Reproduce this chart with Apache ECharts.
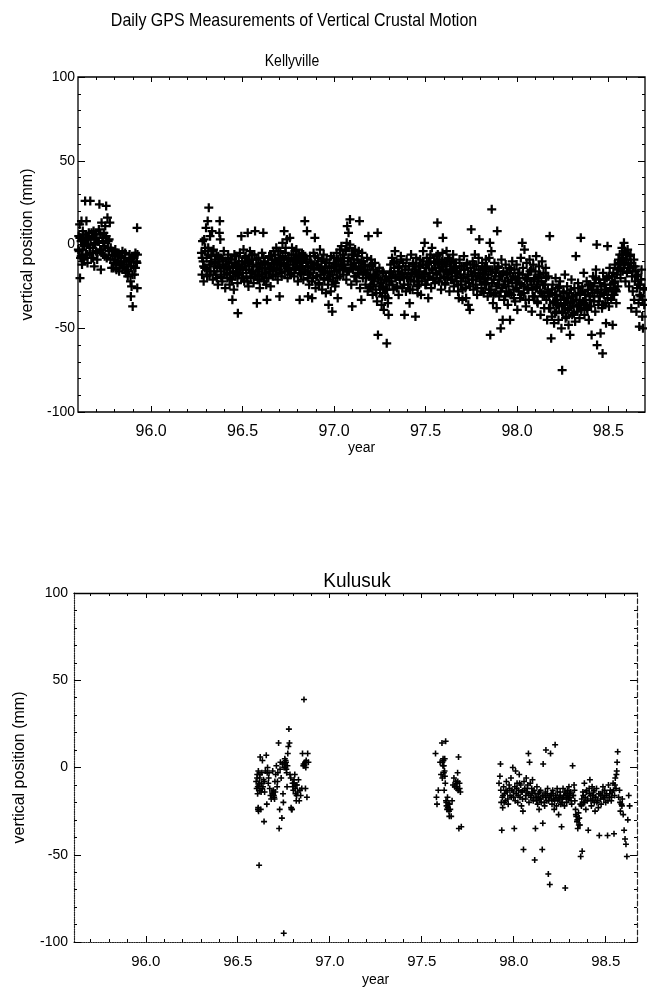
<!DOCTYPE html>
<html>
<head>
<meta charset="utf-8">
<script src="https://cdn.jsdelivr.net/npm/echarts@6/dist/echarts.min.js"></script>
<style>
html,body{margin:0;padding:0;background:#fff;}
#chart{width:647px;height:988px;}
</style>
</head>
<body>
<div id="chart"></div>
<script>
// ---- Text ----
const mainTitle = 'Daily GPS Measurements of Vertical Crustal Motion';
const stationNames = ['Kellyville', 'Kulusuk'];
const xName = 'year';
const yName = 'vertical position (mm)';

// ---- Tick positions ----
const xMajorTicks = [96.0, 96.5, 97.0, 97.5, 98.0, 98.5];
const xMinorTicks = [95.7, 95.8, 95.9, 96.1, 96.2, 96.3, 96.4, 96.6, 96.7, 96.8, 96.9, 97.1, 97.2, 97.3, 97.4, 97.6, 97.7, 97.8, 97.9, 98.1, 98.2, 98.3, 98.4, 98.6];
const yRange = [-100, 100];
const yStep = 50;
const kellyvilleYearRange = [95.6, 98.7];
const kulusukYearRange = [95.61, 98.67];

// ---- Kellyville: [year, vertical position mm] ----
const kellyville1995 = [[95.604,5],[95.606,-4],[95.609,12],[95.611,-20],[95.614,-8],[95.617,2],[95.619,14],[95.622,-12],[95.625,-3],[95.629,6],[95.632,-9],[95.636,1],[95.639,26],[95.642,-6],[95.646,14],[95.649,4],[95.652,-11],[95.656,0],[95.659,7],[95.663,-5],[95.667,26],[95.669,3],[95.673,-8],[95.677,5],[95.681,-2],[95.685,8],[95.689,-13],[95.693,1],[95.697,-4],[95.701,6],[95.705,-9],[95.709,2],[95.714,9],[95.717,24],[95.721,-3],[95.725,-15],[95.729,13],[95.733,4],[95.737,-6],[95.741,7],[95.745,-1],[95.749,11],[95.754,23],[95.757,-8],[95.761,16],[95.765,2],[95.769,-4],[95.774,13],[95.779,-2],[95.784,-14],[95.789,-6],[95.794,-14],[95.799,-9],[95.804,-3],[95.809,-12],[95.814,-5],[95.819,-10],[95.825,-16],[95.831,-7],[95.837,-11],[95.843,-4],[95.849,-13],[95.855,-8],[95.861,-17],[95.867,-15],[95.872,-19],[95.877,-10],[95.882,-6],[95.887,-22],[95.889,-31],[95.893,-25],[95.897,-8],[95.899,-37],[95.904,-13],[95.909,-18],[95.914,-5],[95.919,-10],[95.923,10],[95.924,-26],[95.925,-6]];

const kellyville1995Core = [[95.602,-3],[95.610,4],[95.618,-7],[95.626,8],[95.634,-1],[95.642,3],[95.650,-6],[95.658,5],[95.666,-2],[95.674,7],[95.682,-8],[95.690,0],[95.698,4],[95.706,-5],[95.714,2],[95.722,6],[95.730,-3],[95.738,1],[95.746,-7],[95.754,5],[95.762,-2],[95.770,3],[95.778,-9],[95.786,-4],[95.794,-11],[95.802,-7],[95.810,-15],[95.818,-6],[95.826,-12],[95.834,-8],[95.842,-14],[95.850,-10],[95.858,-5],[95.866,-12],[95.874,-16],[95.882,-9],[95.890,-13],[95.898,-18],[95.906,-7],[95.914,-14],[95.922,-11]];

const kellyville1996 = [[96.275,-5],[96.278,-18],[96.281,2],[96.284,-10],[96.287,-22],[96.290,3],[96.293,-14],[96.296,-4],[96.300,10],[96.303,-8],[96.306,-19],[96.309,14],[96.312,-2],[96.315,22],[96.318,-12],[96.322,5],[96.325,-16],[96.329,-7],[96.333,8],[96.337,-21],[96.341,-3],[96.345,-13],[96.349,-9],[96.353,-18],[96.357,-6],[96.361,-14],[96.365,-24],[96.369,-10],[96.373,7],[96.375,14],[96.378,3],
[96.381,-16],[96.385,-8],[96.389,-22],[96.393,-12],[96.397,-4],[96.401,-18],[96.405,-26],[96.409,-10],[96.413,-15],[96.417,-20],[96.421,-6],[96.425,-13],[96.429,-24],[96.433,-17],[96.437,-9],[96.441,-21],[96.444,-33],[96.448,-14],[96.452,-27],[96.456,-11],[96.460,-19],[96.464,-7],[96.468,-16],[96.472,-23],[96.474,-41],[96.477,-12],[96.481,-18],[96.485,-5],[96.489,-14],[96.493,-20],
[96.493,5],[96.497,-10],[96.501,-17],[96.505,-3],[96.509,-22],[96.513,-13],[96.517,-7],[96.521,-19],[96.525,-11],[96.528,7],[96.532,-25],[96.536,-15],[96.540,-4],[96.544,-20],[96.548,-9],[96.552,-16],[96.556,-12],[96.560,-23],[96.564,-6],[96.568,8],[96.572,-18],[96.576,-13],[96.578,-35],[96.582,-21],[96.586,-8],[96.590,-15],[96.594,-26],[96.598,-11],[96.602,-19],[96.606,-5],[96.610,-14],[96.613,7],[96.617,-22],[96.621,-10],[96.625,-17],[96.629,-24],[96.633,-33],[96.637,-12],[96.641,-20],[96.645,-7],[96.649,-16],[96.653,-25],[96.657,-13],[96.661,-9],[96.665,-19],[96.669,-4],
[96.672,-14],[96.676,-6],[96.680,-18],[96.684,-2],[96.688,-11],[96.692,-21],[96.696,-8],[96.700,-15],[96.702,-31],[96.706,-4],[96.710,-12],[96.714,-19],[96.718,1],[96.722,-9],[96.727,8],[96.730,-16],[96.734,-5],[96.738,-13],[96.742,3],[96.746,-20],[96.750,-8],[96.754,-14],[96.758,4],[96.762,-10],[96.766,-17],[96.770,-2],[96.774,-12],[96.778,-6],[96.782,-19],[96.786,-9],[96.790,-15],[96.794,-3],[96.798,-11],[96.802,-22],[96.806,-7],[96.810,-14],[96.812,-33],[96.816,-10],[96.820,-18],[96.824,-5],[96.828,-13],[96.832,-21],[96.836,-8],[96.840,14],[96.844,-16],[96.848,-11],[96.852,8],[96.856,-20],[96.858,-31],
[96.860,-13],[96.864,-24],[96.868,-7],[96.872,-17],[96.876,-11],[96.880,-32],[96.884,-20],[96.888,-5],[96.892,-15],[96.895,4],[96.899,-26],[96.903,-12],[96.907,-19],[96.911,-8],[96.915,-23],[96.919,-14],[96.923,-3],[96.927,-18],[96.931,-10],[96.935,-27],[96.939,-16],[96.943,-6],[96.947,-21],[96.951,-13],[96.955,-29],[96.959,-9],[96.963,-17],[96.967,-24],[96.970,-36],[96.974,-11],[96.978,-19],[96.982,-28],[96.986,-14],[96.990,-40],[96.994,-22],[96.998,-8],[97.002,-16],[97.006,-25],[97.010,-12],[97.014,-5],[97.018,-20],[97.020,-32],[97.024,-10],[97.028,-15],[97.032,-3],[97.036,-9],[97.040,-1],[97.044,-13],[97.048,-6]];

const kellyville1996Core = [[96.279,-8],[96.287,-13],[96.295,-2],[96.303,-15],[96.311,-6],[96.319,-18],[96.327,-10],[96.335,-4],[96.343,-16],[96.351,-11],[96.359,-20],[96.367,-7],[96.375,-13],[96.383,-19],[96.391,-9],[96.399,-14],[96.407,-12],[96.415,-17],[96.423,-8],[96.431,-20],[96.439,-11],[96.447,-16],[96.455,-6],[96.463,-13],[96.471,-18],[96.479,-10],[96.487,-15],
[96.495,-12],[96.503,-20],[96.511,-8],[96.519,-15],[96.527,-22],[96.535,-10],[96.543,-17],[96.551,-6],[96.559,-13],[96.567,-19],[96.575,-9],[96.583,-16],[96.591,-21],[96.599,-12],[96.607,-18],[96.615,-8],[96.623,-14],[96.631,-20],[96.639,-11],[96.647,-15],[96.655,-7],[96.663,-18],[96.671,-12],
[96.679,-9],[96.687,-15],[96.695,-4],[96.703,-12],[96.711,-17],[96.719,-7],[96.727,-11],[96.735,-2],[96.743,-14],[96.751,-9],[96.759,-18],[96.767,-6],[96.775,-10],[96.783,-15],[96.791,-4],[96.799,-13],[96.807,-8],[96.815,-17],[96.823,-11],[96.831,-6],[96.839,-15],[96.847,-9],[96.855,-13],
[96.863,-18],[96.871,-10],[96.879,-22],[96.887,-14],[96.895,-7],[96.903,-19],[96.911,-12],[96.919,-24],[96.927,-15],[96.935,-9],[96.943,-20],[96.951,-16],[96.959,-11],[96.967,-21],[96.975,-14],[96.983,-7],[96.991,-18],[96.999,-13],[97.007,-23],[97.015,-16],[97.023,-9],[97.031,-19],[97.039,-12],[97.047,-15]];

const kellyville1997 = [[97.051,-18],[97.055,-8],[97.059,-14],[97.063,-4],[97.067,-21],[97.069,1],[97.072,11],[97.075,-10],[97.079,7],[97.082,-16],[97.085,-2],[97.087,15],[97.090,-12],[97.094,-24],[97.097,-6],[97.099,-37],[97.103,-15],[97.107,-9],[97.111,-19],[97.115,-3],[97.119,-13],[97.123,-22],[97.127,-7],[97.131,-17],[97.135,-11],[97.139,14],[97.142,-26],[97.146,-14],[97.149,-33],[97.153,-5],[97.157,-20],[97.161,-10],[97.165,-16],
[97.168,-12],[97.172,-24],[97.176,-17],[97.180,-8],[97.184,-28],[97.188,5],[97.191,-19],[97.195,-13],[97.199,-25],[97.203,-9],[97.207,-21],[97.211,-30],[97.215,-15],[97.219,-22],[97.223,-11],[97.227,-27],[97.231,-18],[97.235,-34],[97.238,7],[97.240,-54],[97.244,-20],[97.248,-14],[97.252,-29],[97.256,-23],[97.260,-36],[97.264,-16],[97.268,-26],[97.272,-39],[97.276,-21],[97.280,-31],[97.284,-19],[97.288,-59],[97.290,-27],[97.294,-35],[97.298,-42],[97.302,-24],[97.306,-17],
[97.309,-12],[97.313,-22],[97.317,-8],[97.321,-18],[97.325,-27],[97.329,-14],[97.333,-4],[97.337,-20],[97.341,-10],[97.345,-25],[97.349,-16],[97.353,-30],[97.357,-13],[97.361,-21],[97.365,-7],[97.369,-18],[97.373,-26],[97.377,-11],[97.381,-20],[97.385,-42],[97.389,-15],[97.393,-28],[97.397,-9],[97.401,-19],[97.405,-24],[97.409,-13],[97.413,-35],[97.417,-21],[97.421,-6],[97.425,-17],[97.429,-27],[97.433,-11],[97.437,-22],[97.441,-15],[97.445,-43],[97.449,-8],[97.453,-19],[97.457,-29],[97.461,-13],[97.465,-24],
[97.467,-16],[97.471,-9],[97.475,-30],[97.479,-20],[97.483,-12],[97.487,-4],[97.491,-18],[97.495,1],[97.499,-24],[97.503,-14],[97.507,-8],[97.511,-21],[97.515,-32],[97.519,-11],[97.523,-17],[97.527,-6],[97.531,-26],[97.535,-2],[97.539,-15],[97.543,-20],[97.547,-10],[97.551,-23],[97.555,-14],[97.559,-7],[97.563,-18],[97.565,13],[97.569,-12],[97.573,-22],[97.577,-9],[97.581,-16],[97.585,-27],[97.589,-13],[97.593,-5],[97.595,4],[97.599,-19],[97.603,-11],[97.607,-24],[97.611,-15],[97.615,-4],[97.619,-20],[97.623,-8],[97.627,-17],[97.631,-28],[97.635,-13],[97.639,-21],[97.643,-10],[97.647,-16],[97.651,-6],[97.655,-25],[97.659,-14],[97.663,-19],
[97.666,-11],[97.670,-22],[97.674,-16],[97.678,-28],[97.682,-32],[97.686,-9],[97.690,-18],[97.694,-24],[97.698,-13],[97.702,-33],[97.706,-20],[97.710,-7],[97.714,-15],[97.718,-26],[97.722,-32],[97.726,-12],[97.730,-19],[97.734,-36],[97.738,-23],[97.742,-39],[97.746,-14],[97.750,9],[97.754,-21],[97.758,-10],[97.762,-27],[97.766,-17],[97.770,-6],[97.774,-24],[97.778,-13],[97.782,-30],[97.786,-19],[97.790,-8],[97.794,3],[97.798,-22],[97.802,-15],[97.806,-26],[97.810,-11],[97.814,-18],[97.818,-29],[97.822,-14],[97.826,-21],[97.830,-9]];

const kellyville1997Core = [[97.055,-12],[97.063,-3],[97.071,-16],[97.079,-8],[97.087,0],[97.095,-14],[97.103,-6],[97.111,-11],[97.119,-19],[97.127,-9],[97.135,-4],[97.143,-15],[97.151,-10],[97.159,-18],[97.167,-13],
[97.175,-20],[97.183,-15],[97.191,-26],[97.199,-18],[97.207,-12],[97.215,-24],[97.223,-19],[97.231,-29],[97.239,-16],[97.247,-25],[97.255,-21],[97.263,-31],[97.271,-17],[97.279,-27],[97.287,-22],[97.295,-32],[97.303,-20],
[97.311,-16],[97.319,-24],[97.327,-11],[97.335,-19],[97.343,-26],[97.351,-14],[97.359,-21],[97.367,-9],[97.375,-17],[97.383,-24],[97.391,-13],[97.399,-20],[97.407,-15],[97.415,-27],[97.423,-18],[97.431,-12],[97.439,-22],[97.447,-16],[97.455,-25],[97.463,-19],
[97.471,-13],[97.479,-22],[97.487,-10],[97.495,-17],[97.503,-24],[97.511,-12],[97.519,-19],[97.527,-8],[97.535,-15],[97.543,-21],[97.551,-11],[97.559,-17],[97.567,-6],[97.575,-14],[97.583,-20],[97.591,-10],[97.599,-16],[97.607,-23],[97.615,-12],[97.623,-18],[97.631,-9],[97.639,-15],[97.647,-21],[97.655,-11],[97.663,-16],
[97.671,-17],[97.679,-24],[97.687,-13],[97.695,-20],[97.703,-27],[97.711,-15],[97.719,-22],[97.727,-11],[97.735,-18],[97.743,-25],[97.751,-16],[97.759,-21],[97.767,-12],[97.775,-19],[97.783,-26],[97.791,-15],[97.799,-20],[97.807,-28],[97.815,-17],[97.823,-23],[97.831,-14]];

const kellyville1998 = [[97.832,-24],[97.836,-13],[97.840,-31],[97.844,-18],[97.848,-8],[97.852,1],[97.854,-54],[97.857,-27],[97.860,-4],[97.862,21],[97.865,-15],[97.869,-35],[97.873,-21],[97.877,-11],[97.881,-29],[97.885,-17],[97.889,-38],[97.892,8],[97.895,-24],[97.899,-13],[97.903,-31],[97.907,-19],[97.911,-50],[97.915,-9],[97.919,-26],[97.922,-45],[97.926,-16],[97.930,-33],[97.934,-22],[97.938,-12],[97.942,-28],[97.946,-18],[97.950,-36],[97.954,-25],[97.958,-14],[97.962,-45],[97.966,-21],[97.970,-30],[97.974,-10],[97.978,-19],[97.982,-27],[97.986,-15],[97.990,-34],[97.994,-23],[97.998,-12],[98.002,-39],[98.006,-20],[98.010,-28],
[98.013,-17],[98.017,-32],[98.021,-8],[98.025,-24],[98.029,1],[98.033,-14],[98.037,-29],[98.041,-3],[98.045,-20],[98.049,-37],[98.053,-11],[98.057,-26],[98.061,-18],[98.065,-33],[98.069,-9],[98.073,-22],[98.077,-15],[98.081,-40],[98.085,-27],[98.089,-12],[98.093,-21],[98.097,-31],[98.101,-16],[98.105,-7],[98.109,-25],[98.113,-35],[98.117,-19],[98.121,-13],[98.125,-28],[98.129,-42],[98.133,-22],[98.137,-10],[98.141,-31],[98.145,-17],[98.149,-38],[98.153,-24],[98.157,-14],[98.161,-33],[98.165,-45],[98.169,-27],
[98.171,-19],[98.175,-38],[98.179,5],[98.183,-29],[98.187,-56],[98.191,-43],[98.195,-24],[98.199,-35],[98.203,-47],[98.207,-30],[98.211,-20],[98.215,-40],[98.219,-33],[98.223,-26],[98.227,-45],[98.231,-37],[98.235,-22],[98.239,-31],[98.243,-50],[98.247,-75],[98.250,-41],[98.254,-28],[98.258,-36],[98.262,-18],[98.266,-44],[98.270,-32],[98.274,-25],[98.278,-39],[98.282,-48],[98.286,-29],[98.290,-54],[98.294,-35],[98.298,-21],[98.302,-42],[98.306,-31],[98.310,-37],[98.314,-26],[98.318,-46],[98.322,-7],[98.326,-33],[98.330,-40],[98.334,-23],[98.338,-36],[98.342,-44],[98.346,-29],[98.349,4],[98.353,-38],[98.357,-25],[98.361,-34],[98.365,-17],[98.369,-42],[98.373,-30],[98.377,-36],[98.381,-22],[98.385,-39],[98.389,-27],[98.393,-45],[98.397,-33],[98.401,-24],[98.405,-37],
[98.408,-54],[98.412,-29],[98.416,-19],[98.420,-34],[98.424,-23],[98.428,-40],[98.432,-15],[98.436,0],[98.438,-60],[98.441,-28],[98.445,-36],[98.449,-21],[98.453,-31],[98.457,-53],[98.461,-25],[98.465,-38],[98.468,-65],[98.471,-17],[98.475,-30],[98.479,-24],[98.483,-35],[98.487,-47],[98.491,-20],[98.495,-1],[98.499,-28],[98.503,-37],[98.507,-14],[98.511,-26],[98.515,-33],[98.519,-19],[98.523,-48],[98.527,-23],[98.531,-30],[98.535,-12],[98.539,-27],[98.543,-35],[98.547,-18],[98.551,-25],[98.555,-9],
[98.558,-14],[98.562,-6],[98.566,-20],[98.570,-10],[98.574,-2],[98.578,-16],[98.582,-8],[98.585,1],[98.589,-12],[98.593,-22],[98.597,-5],[98.601,-17],[98.605,-3],[98.609,-11],[98.613,-25],[98.617,-14],[98.621,-6],[98.625,-38],[98.629,-19],[98.633,-28],[98.637,-13],[98.641,-33],[98.645,-22],[98.649,-16],[98.653,-40],[98.657,-26],[98.661,-18],[98.665,-35],[98.669,-49],[98.673,-24],[98.677,-31],[98.681,-15],[98.685,-43],[98.689,-50],[98.693,-27],[98.696,-36]];

const kellyville1998Core = [[97.839,-20],[97.847,-27],[97.855,-16],[97.863,-23],[97.871,-30],[97.879,-19],[97.887,-25],[97.895,-14],[97.903,-21],[97.911,-28],[97.919,-18],[97.927,-24],[97.935,-31],[97.943,-17],[97.951,-22],[97.959,-29],[97.967,-15],[97.975,-23],[97.983,-32],[97.991,-20],[97.999,-26],[98.007,-17],
[98.015,-23],[98.023,-30],[98.031,-18],[98.039,-25],[98.047,-33],[98.055,-21],[98.063,-27],[98.071,-16],[98.079,-24],[98.087,-31],[98.095,-20],[98.103,-26],[98.111,-34],[98.119,-22],[98.127,-18],[98.135,-29],[98.143,-24],[98.151,-31],[98.159,-20],[98.167,-28],
[98.175,-31],[98.183,-38],[98.191,-27],[98.199,-34],[98.207,-41],[98.215,-30],[98.223,-36],[98.231,-25],[98.239,-33],[98.247,-40],[98.255,-29],[98.263,-35],[98.271,-43],[98.279,-32],[98.287,-38],[98.295,-27],[98.303,-34],[98.311,-41],[98.319,-30],[98.327,-37],[98.335,-26],[98.343,-33],[98.351,-39],[98.359,-28],[98.367,-35],[98.375,-30],[98.383,-38],[98.391,-24],[98.399,-31],[98.407,-27],
[98.415,-25],[98.423,-31],[98.431,-20],[98.439,-27],[98.447,-34],[98.455,-23],[98.463,-29],[98.471,-36],[98.479,-21],[98.487,-27],[98.495,-32],[98.503,-19],[98.511,-24],[98.519,-30],[98.527,-17],[98.535,-22],[98.543,-28],[98.551,-15],
[98.559,-11],[98.567,-15],[98.575,-6],[98.583,-12],[98.591,-4],[98.599,-9],[98.607,-14],[98.615,-7],[98.623,-11],[98.631,-16],[98.639,-9],[98.647,-13],[98.655,-19],[98.663,-24],[98.671,-30],[98.679,-21],[98.687,-33],[98.695,-26]];

// ---- Kulusuk: [year, vertical position mm] ----
const kulusuk1996 = [[96.600,-8],[96.603,-12],[96.606,-4],[96.608,-15],[96.610,-24],[96.612,-2],[96.614,-10],[96.616,-56],[96.618,-6],[96.620,-13],[96.622,6],[96.625,-24],[96.628,-9],[96.631,-3],[96.634,4],[96.637,-11],[96.640,-7],[96.643,-31],[96.646,-14],[96.650,-2],[96.655,7],[96.658,-21],[96.662,0],[96.666,-9],[96.670,-3],[96.674,-12],[96.678,-16],[96.682,-18],[96.686,-14],[96.690,-2],[96.694,-13],[96.698,-17],[96.702,-8],[96.706,-4],[96.710,1],[96.714,-11],[96.718,-3],[96.722,14],[96.725,-35],[96.728,-24],[96.732,3],[96.736,-6],[96.740,-29],[96.743,2],[96.746,-15],[96.750,-95],[96.752,0],[96.756,5],[96.760,4],[96.764,-1],[96.768,-11],[96.772,8],[96.775,12],[96.778,22],[96.781,14],[96.784,-4],[96.788,-6],[96.792,-24],[96.795,-24],[96.798,-9],[96.802,-13],[96.806,-7],[96.810,-4],[96.814,-15],[96.818,-19],[96.822,-10],[96.826,-14],[96.830,-7],[96.834,-19],[96.838,-13],[96.842,-16],[96.848,-12],[96.852,8],[96.856,1],[96.860,39],[96.864,2],[96.868,-12],[96.872,4],[96.876,-17],[96.880,8],[96.884,3],
[96.605,-6],[96.609,-11],[96.611,-23],[96.613,-25],[96.617,-9],[96.621,-4],[96.627,-14],[96.633,-12],[96.645,-8],[96.660,-3],[96.668,-6],[96.688,-15],[96.696,-16],[96.700,-18],[96.704,-14],[96.716,-8],[96.730,-1],[96.748,-20],[96.754,2],[96.758,0],[96.762,3],[96.766,-3],[96.770,1],[96.790,-23],[96.800,-11],[96.804,-9],[96.812,-12],[96.816,-10],[96.820,-16],[96.858,2],[96.862,1],[96.866,3],[96.870,0]];

const kulusuk1997 = [[97.575,8],[97.580,-17],[97.583,-21],[97.590,-13],[97.600,3],[97.605,-4],[97.610,14],[97.612,-6],[97.615,1],[97.618,4],[97.620,-3],[97.622,-13],[97.625,5],[97.628,-9],[97.630,15],[97.632,-19],[97.635,-22],[97.638,-24],[97.640,-17],[97.645,-21],[97.650,-28],[97.655,-24],[97.660,-28],[97.665,-19],[97.670,-10],[97.675,-6],[97.680,-11],[97.685,-8],[97.690,-12],[97.695,-3],[97.700,6],[97.702,-35],[97.705,-9],[97.710,-14],[97.715,-34],
[97.612,3],[97.616,5],[97.620,1],[97.624,-2],[97.626,-5],[97.634,-20],[97.642,-23],[97.648,-25],[97.652,-21],[97.688,-9],[97.692,-11],[97.696,-8],[97.698,-13],[97.706,-12]];

const kulusuk1998 = [[97.920,-9],[97.925,-5],[97.928,2],[97.930,-13],[97.932,-20],[97.935,-36],[97.938,-17],[97.940,-23],[97.945,-11],[97.950,-15],[97.955,-19],[97.960,-8],[97.965,-14],[97.970,-21],[97.975,-10],[97.980,-16],[97.985,-6],[97.990,-13],[97.995,0],[98.000,-17],[98.003,-35],[98.006,-11],[98.010,-2],[98.014,-15],[98.018,-9],[98.022,-20],[98.026,-13],[98.030,-4],[98.034,-17],[98.038,-10],[98.042,-22],[98.046,-14],[98.050,-25],[98.053,-47],[98.056,-8],[98.060,-12],[98.064,-18],[98.068,-6],[98.072,-14],[98.076,-10],[98.080,8],[98.083,-20],[98.086,3],[98.090,-9],[98.094,-16],[98.098,-12],[98.102,-7],[98.106,-19],[98.110,-13],[98.114,-53],[98.118,-35],[98.122,-17],[98.126,-11],[98.130,-21],[98.134,-15],[98.138,-24],[98.142,-18],[98.146,-13],[98.150,-20],[98.155,-47],[98.158,-32],[98.160,2],[98.164,-16],[98.168,-22],[98.172,-14],[98.175,10],[98.180,-19],[98.184,-12],[98.188,-61],[98.192,-17],[98.196,-67],[98.200,8],[98.204,-15],[98.208,-21],[98.212,-13],[98.216,-18],[98.220,-24],[98.225,13],[98.228,-16],[98.232,-22],[98.236,-12],[98.240,-19],[98.244,-27],[98.248,-17],[98.252,-14],[98.256,-21],[98.260,-34],[98.264,-18],[98.268,-12],[98.272,-16],[98.276,-22],[98.280,-69],[98.284,-15],[98.288,-20],[98.292,-13],[98.296,-18],[98.300,-11],[98.305,-17],[98.310,-14],[98.315,-21],[98.320,1],[98.324,-16],[98.328,-10],[98.332,-19],[98.336,-24],[98.340,-28],[98.344,-31],[98.348,-35],[98.352,-26],[98.356,-29],[98.360,-33],[98.364,-51],[98.368,-22],[98.372,-48],[98.376,-14],[98.380,-20],[98.384,-9],[98.388,-17],[98.392,-24],[98.396,-13],[98.400,-19],[98.405,-36],[98.410,-12],[98.414,-7],[98.418,-16],[98.422,-22],[98.426,-11],[98.430,-18],[98.434,-14],[98.438,-20],[98.442,-25],[98.446,-17],[98.450,-12],[98.455,-19],[98.460,-23],[98.465,-39],[98.470,-15],[98.475,-21],[98.480,-16],[98.485,-11],[98.490,-18],[98.495,-13],[98.500,-20],[98.505,-15],[98.510,-39],[98.515,-10],[98.520,-17],[98.525,-13],[98.530,-19],[98.535,-14],[98.540,-9],[98.545,-38],[98.548,-16],[98.552,-6],[98.556,-12],[98.560,-2],[98.565,9],[98.570,-17],[98.575,-13],[98.580,-25],[98.585,-21],[98.590,-18],[98.595,-27],[98.600,-36],[98.605,-41],[98.610,-44],[98.615,-51],[98.620,-30],[98.625,-16],[98.630,-22]];

const kulusuk1998Core = [[97.942,-16],[97.948,-20],[97.958,-13],[97.968,-18],[97.978,-12],[97.988,-17],[97.998,-14],[98.008,-19],[98.016,-12],[98.024,-16],[98.032,-9],[98.040,-14],[98.048,-18],[98.058,-13],[98.066,-16],[98.074,-12],[98.082,-15],[98.092,-17],[98.100,-14],[98.108,-18],[98.116,-15],[98.124,-19],[98.132,-17],[98.140,-14],[98.148,-18],[98.156,-16],[98.166,-20],[98.174,-17],[98.182,-15],[98.190,-19],[98.198,-16],[98.206,-18],[98.214,-15],[98.222,-19],[98.230,-17],[98.238,-14],[98.246,-18],[98.254,-16],[98.262,-20],[98.270,-17],[98.278,-14],[98.286,-18],[98.294,-16],[98.302,-15],[98.312,-19],[98.322,-16],[98.330,-13],[98.338,-27],[98.346,-30],[98.354,-33],[98.362,-21],[98.370,-18],[98.378,-16],[98.386,-20],[98.394,-14],[98.402,-18],[98.412,-15],[98.420,-19],[98.428,-16],[98.436,-13],[98.444,-17],[98.452,-20],[98.462,-15],[98.472,-18],[98.482,-14],[98.492,-17],[98.502,-16],[98.512,-19],[98.522,-15],[98.532,-17],[98.542,-13],[98.550,-10],[98.558,-4],[98.562,3],[98.578,-20],[98.588,-22]];

// ---- Rendering ----
const FONT = "'Liberation Sans', Arial, Helvetica, sans-serif";
const INK = '#000';
const plusBold = 'path://M3.75,0H6.25V3.75H10V6.25H6.25V10H3.75V6.25H0V3.75H3.75Z';
const plusThin = 'path://M3.7,0H6.3V3.7H10V6.3H6.3V10H3.7V6.3H0V3.7H3.7Z';

function xAxisSet(gridIndex, range, opts) {
  const common = {gridIndex: gridIndex, type: 'value', min: range[0], max: range[1], splitLine: {show: false}};
  const noLine = {show: false, onZero: false};
  return [
    Object.assign({}, common, {
      position: 'bottom',
      axisLine: opts.bottomLine,
      axisTick: {show: true, inside: true, length: 6, customValues: xMajorTicks, lineStyle: {color: INK, width: 1}},
      axisLabel: {show: true, customValues: xMajorTicks, formatter: v => v.toFixed(1), color: INK, fontSize: opts.labelSize, fontFamily: FONT, margin: opts.labelMargin},
      name: xName, nameLocation: 'middle', nameGap: opts.nameGap,
      nameTextStyle: {color: INK, fontSize: 14, fontFamily: FONT, padding: opts.namePadding}
    }),
    Object.assign({}, common, {
      position: 'bottom', axisLine: noLine,
      axisTick: {show: true, inside: true, length: 3, customValues: xMinorTicks, lineStyle: {color: INK, width: 1}},
      axisLabel: {show: false}
    }),
    Object.assign({}, common, {
      position: 'top', axisLine: opts.topLine,
      axisTick: {show: true, inside: true, length: 5, customValues: xMajorTicks, lineStyle: {color: INK, width: 1}},
      axisLabel: {show: false}
    }),
    Object.assign({}, common, {
      position: 'top', axisLine: noLine,
      axisTick: {show: true, inside: true, length: 3, customValues: xMinorTicks, lineStyle: {color: INK, width: 1}},
      axisLabel: {show: false}
    })
  ];
}

function yAxisSet(gridIndex, opts) {
  const common = {
    gridIndex: gridIndex, type: 'value', min: yRange[0], max: yRange[1], interval: yStep,
    splitLine: {show: false},
    axisTick: {show: true, inside: true, length: 7, lineStyle: {color: INK, width: 1}},
    minorTick: {show: true, splitNumber: 5, length: 3, lineStyle: {color: INK, width: 1}}
  };
  return [
    Object.assign({}, common, {
      position: 'left', axisLine: opts.leftLine,
      axisLabel: {show: true, color: INK, fontSize: 14, fontFamily: FONT, margin: opts.labelMargin},
      name: yName, nameLocation: 'middle', nameGap: opts.nameGap, nameRotate: 90,
      nameTextStyle: {color: INK, fontSize: 16, fontFamily: FONT}
    }),
    Object.assign({}, common, {
      position: 'right', axisLine: opts.rightLine, axisLabel: {show: false}
    })
  ];
}

const xAxes = [].concat(
  xAxisSet(0, kellyvilleYearRange, {
    bottomLine: {show: false, onZero: false}, topLine: {show: false, onZero: false},
    labelSize: 16, labelMargin: 12, nameGap: 24, namePadding: 0
  }),
  xAxisSet(1, kulusukYearRange, {
    bottomLine: {show: true, onZero: false, lineStyle: {color: '#222', width: 1.2, type: 'dotted'}},
    topLine: {show: true, onZero: false, lineStyle: {color: INK, width: 1.3}},
    labelSize: 15, labelMargin: 12, nameGap: 31, namePadding: [0, 0, 0, 40]
  })
);

const yAxes = [].concat(
  yAxisSet(0, {leftLine: {show: false, onZero: false}, rightLine: {show: false, onZero: false}, labelMargin: 3, nameGap: 37}),
  yAxisSet(1, {
    leftLine: {show: true, onZero: false, lineStyle: {color: '#222', width: 1.2, type: 'dotted'}},
    rightLine: {show: true, onZero: false, lineStyle: {color: '#222', width: 1.2, type: 'dashed'}},
    labelMargin: 6, nameGap: 46
  })
);

function scatter(data, xIdx, yIdx, symbol, size) {
  return {
    type: 'scatter', data: data, xAxisIndex: xIdx, yAxisIndex: yIdx,
    symbol: symbol, symbolSize: size, clip: true,
    itemStyle: {color: INK, opacity: 1}, emphasis: {disabled: true}, silent: true
  };
}

const option = {
  animation: false,
  backgroundColor: '#fff',
  textStyle: {fontFamily: FONT},
  grid: [
    {left: 78, top: 77, width: 567, height: 335, show: true, borderColor: INK, borderWidth: 1.3, backgroundColor: 'transparent'},
    {left: 74, top: 593, width: 563, height: 349}
  ],
  xAxis: xAxes,
  yAxis: yAxes,
  graphic: [
    {type: 'text', x: 294, y: 21, scaleY: 1.2, style: {text: mainTitle, fontSize: 16, fontFamily: FONT, fill: INK, align: 'center', verticalAlign: 'middle'}},
    {type: 'text', x: 292, y: 61, scaleY: 1.2, style: {text: stationNames[0], fontSize: 14, fontFamily: FONT, fill: INK, align: 'center', verticalAlign: 'middle'}},
    {type: 'text', x: 357, y: 581, scaleY: 1.1, style: {text: stationNames[1], fontSize: 19, fontFamily: FONT, fill: INK, align: 'center', verticalAlign: 'middle'}}
  ],
  series: [
    scatter(kellyville1995, 0, 0, plusBold, 9),
    scatter(kellyville1995Core, 0, 0, plusBold, 9),
    scatter(kellyville1996, 0, 0, plusBold, 9),
    scatter(kellyville1996Core, 0, 0, plusBold, 9),
    scatter(kellyville1997, 0, 0, plusBold, 9),
    scatter(kellyville1997Core, 0, 0, plusBold, 9),
    scatter(kellyville1998, 0, 0, plusBold, 9),
    scatter(kellyville1998Core, 0, 0, plusBold, 9),
    scatter(kulusuk1996, 4, 2, plusThin, 6),
    scatter(kulusuk1997, 4, 2, plusThin, 6),
    scatter(kulusuk1998, 4, 2, plusThin, 6),
    scatter(kulusuk1998Core, 4, 2, plusThin, 6)
  ]
};

const chart = echarts.init(document.getElementById('chart'), null, {renderer: 'canvas'});
chart.setOption(option);
</script>
</body>
</html>
